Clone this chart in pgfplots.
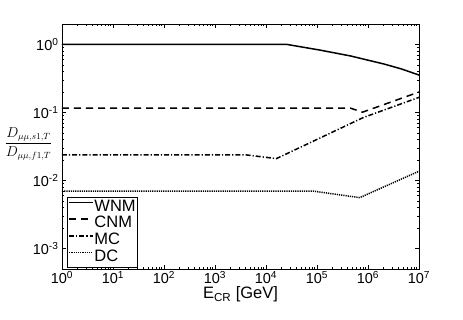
\documentclass[border=0pt]{standalone}
\usepackage{pgfplots}
\pgfplotsset{compat=1.18}
\usepackage{fontspec}
\setmainfont{Liberation Sans}
\begin{document}
\begin{tikzpicture}[x=1pt,y=1pt]
\useasboundingbox (0,0) rectangle (463,319);
\begin{axis}[
  at={(62pt,50pt)}, anchor=south west,
  scale only axis, width=357pt, height=245pt,
  xmode=log, ymode=log,
  xmin=1, xmax=1e7, ymin=5e-4, ymax=2,
  xtick={1,10,100,1000,10000,100000,1000000,10000000},
  xticklabels={10\textsuperscript{0},10\textsuperscript{1},10\textsuperscript{2},10\textsuperscript{3},10\textsuperscript{4},10\textsuperscript{5},10\textsuperscript{6},10\textsuperscript{7}},
  ytick={0.001,0.01,0.1,1},
  yticklabels={10\textsuperscript{-3},10\textsuperscript{-2},10\textsuperscript{-1},10\textsuperscript{0}},
  tick pos=both, tick align=inside,
  major tick length=4pt, minor tick length=2pt,
  axis line style={line width=0.8pt},
  every tick/.style={line width=0.5pt, black},
  ticklabel style={font=\fontsize{14.5}{16}\selectfont},
  xticklabel style={yshift=1pt},
  xlabel={E\textsubscript{CR} [GeV]},
  xlabel style={font=\fontsize{16.5}{18}\selectfont, yshift=4pt},
  ylabel={$\displaystyle\frac{D_{\mu\mu,s1,T}}{D_{\mu\mu,f1,T}}$},
  ylabel style={rotate=-90, at={(rel axis cs:0,0.51)}, anchor=center, xshift=-33.5pt, font=\fontsize{13.5}{15}\selectfont},
  legend cell align=left,
  legend style={at={(rel axis cs:0.013,0.007)}, anchor=south west,
    font=\fontsize{16.5}{17}\selectfont, inner sep=1.5pt, row sep=0.3pt,
    draw=black, line width=0.6pt,
    nodes={inner sep=0.5pt, text height=12pt, text depth=3.5pt}},
  legend image code/.code={\draw[#1] (0pt,4.5pt) -- (24pt,4.5pt);},
]
\addplot[black, line width=1.5pt] coordinates {
 (1,1) (2.6e4,1) (1.15e5,0.826) (4.5e5,0.679) (2.1e6,0.514) (4.6e6,0.435) (1e7,0.355)};
\addlegendentry{WNM}
\addplot[black, line width=1.5pt, dash pattern=on 7pt off 5pt] coordinates {
 (1,0.116) (4.5e5,0.116) (7.8e5,0.101) (1e7,0.2)};
\addlegendentry{CNM}
\addplot[black, line width=1.5pt, dash pattern=on 5pt off 2pt on 1.2pt off 2pt] coordinates {
 (1,0.0239) (3.9e3,0.0239) (1.6e4,0.021) (8e5,0.084) (1e7,0.167)};
\addlegendentry{MC}
\addplot[black, line width=1.5pt, dash pattern=on 1.2pt off 1pt] coordinates {
 (1,0.00698) (8.5e4,0.00698) (6.9e5,0.0056) (1e7,0.0137)};
\addlegendentry{DC}
\end{axis}
\end{tikzpicture}
\end{document}
